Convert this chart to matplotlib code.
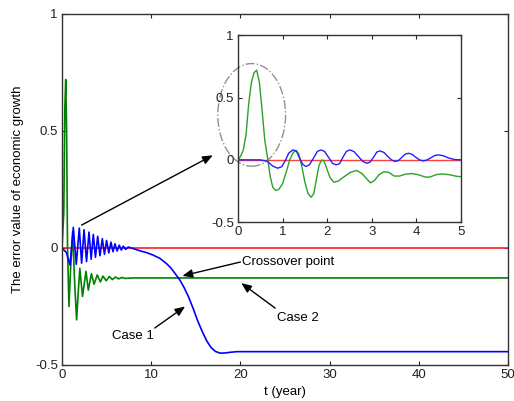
import matplotlib
matplotlib.use("Agg")
import matplotlib.pyplot as plt
from matplotlib.patches import Ellipse

plt.rcParams["font.family"] = ["Liberation Sans", "DejaVu Sans"]
plt.rcParams["axes.unicode_minus"] = False

# main plot: 0..50 years
red_t = [0, 50]
red_v = [0, 0]

case2_t = [0, 0.2, 0.32, 0.42, 0.52, 0.62, 0.78, 0.95, 1.2, 1.42, 1.64, 1.82, 2.0, 2.3,
           2.69, 2.95, 3.3, 3.6, 3.95, 4.3, 4.6, 4.95, 5.3, 5.65, 6.0, 6.35, 6.7, 7.1,
           8.0, 50]
case2_v = [0, 0.15, 0.6, 0.72, 0.5, 0.0, -0.25, -0.1, 0.07, -0.15, -0.307, -0.19, -0.087,
           -0.207, -0.10, -0.18, -0.11, -0.155, -0.115, -0.145, -0.12, -0.14, -0.122,
           -0.135, -0.124, -0.132, -0.126, -0.13, -0.128, -0.128]

case1_t = [0, 0.5, 0.9, 1.27, 1.6, 1.94, 2.2, 2.47, 2.75, 3.03, 3.27, 3.51, 3.75, 4.0,
           4.26, 4.52, 4.76, 5.0, 5.25, 5.49, 5.72, 5.94, 6.18, 6.42, 6.65, 6.87, 7.15,
           7.43, 8.0, 8.74, 9.5, 10.2, 11.0, 11.7, 12.2, 12.7, 13.2, 13.7, 14.2, 14.7,
           15.2, 15.7, 16.2, 16.7, 17.2, 17.7, 18.2, 18.8, 19.6, 50]
case1_v = [0, -0.02, -0.073, 0.088, -0.07, 0.085, -0.065, 0.078, -0.058, 0.068, -0.048,
           0.058, -0.04, 0.05, -0.033, 0.04, -0.027, 0.032, -0.021, 0.025, -0.016, 0.018,
           -0.013, 0.012, -0.009, 0.008, -0.006, 0.004, -0.003, -0.012, -0.02, -0.03,
           -0.045, -0.066, -0.085, -0.11, -0.136, -0.17, -0.21, -0.258, -0.31, -0.355,
           -0.395, -0.425, -0.442, -0.449, -0.449, -0.446, -0.443, -0.443]

# inset: 0..5 years
inset_green_t = [0, 0.06, 0.12, 0.18, 0.24, 0.3, 0.36, 0.42, 0.48, 0.54, 0.6, 0.67, 0.72,
                 0.78, 0.85, 0.92, 1.0, 1.08, 1.16, 1.24, 1.3, 1.36, 1.43, 1.5, 1.57, 1.64,
                 1.7, 1.76, 1.82, 1.88, 1.93, 1.99, 2.06, 2.15, 2.25, 2.38, 2.52, 2.66,
                 2.78, 2.88, 2.97, 3.06, 3.16, 3.27, 3.38, 3.5, 3.62, 3.75, 3.9, 4.05, 4.2,
                 4.3, 4.45, 4.6, 4.75, 4.9, 5.0]
inset_green_v = [0, 0.03, 0.08, 0.2, 0.45, 0.62, 0.7, 0.72, 0.62, 0.4, 0.16, 0.0, -0.13,
                 -0.22, -0.246, -0.235, -0.19, -0.1, 0.0, 0.06, 0.075, 0.05, -0.05, -0.18,
                 -0.27, -0.3, -0.27, -0.15, -0.04, 0.0, -0.01, -0.07, -0.14, -0.18, -0.17,
                 -0.135, -0.1, -0.085, -0.11, -0.15, -0.185, -0.165, -0.12, -0.095, -0.1,
                 -0.13, -0.13, -0.115, -0.11, -0.12, -0.138, -0.138, -0.118, -0.113, -0.12,
                 -0.132, -0.135]

inset_blue_t = [0, 0.5, 0.65, 0.78, 0.89, 0.98, 1.06, 1.14, 1.23, 1.31, 1.38, 1.45, 1.52,
                1.6, 1.69, 1.78, 1.86, 1.94, 2.03, 2.12, 2.2, 2.28, 2.35, 2.43, 2.51, 2.6,
                2.7, 2.8, 2.89, 2.96, 3.04, 3.11, 3.18, 3.27, 3.35, 3.44, 3.52, 3.6, 3.67,
                3.75, 3.82, 3.9, 3.98, 4.07, 4.15, 4.23, 4.32, 4.41, 4.49, 4.6, 4.72, 4.85,
                5.0]
inset_blue_v = [0, 0.0, -0.01, -0.05, -0.067, -0.055, -0.006, 0.055, 0.08, 0.07, 0.015,
                -0.035, -0.053, -0.04, 0.013, 0.068, 0.08, 0.068, 0.02, -0.028, -0.04, -0.03,
                0.02, 0.068, 0.08, 0.066, 0.027, -0.013, -0.027, -0.018, 0.022, 0.062, 0.072,
                0.06, 0.03, 0.0, -0.013, -0.005, 0.02, 0.046, 0.053, 0.045, 0.022, 0.0,
                -0.008, -0.002, 0.016, 0.035, 0.04, 0.033, 0.015, 0.003, 0.0]

FS = 9.5
spine_col = "#333333"


def style_axes(ax):
    for s in ax.spines.values():
        s.set_color(spine_col)
        s.set_linewidth(1.0)
    ax.tick_params(direction="in", length=3, width=0.8, top=True, right=True,
                   labelsize=FS, colors="#222222", pad=3)


fig = plt.figure(figsize=(5.14, 4.01), dpi=100)
ax = fig.add_axes([0.1206, 0.0898, 0.8677, 0.8753])
ax.plot(red_t, red_v, color="#ff2020", lw=1.2)
ax.plot(case2_t, case2_v, color="#008000", lw=1.2)
ax.plot(case1_t, case1_v, color="#0000ff", lw=1.2)
ax.set_xlim(0, 50)
ax.set_ylim(-0.5, 1)
ax.set_xticks([0, 10, 20, 30, 40, 50])
ax.set_yticks([-0.5, 0, 0.5, 1])
ax.set_yticklabels(["-0.5", "0", "0.5", "1"])
style_axes(ax)
ax.set_xlabel("t (year)", fontsize=FS)
ax.set_ylabel("The error value of economic growth", fontsize=FS)
ax.xaxis.set_label_coords(0.5, -0.06)
ax.yaxis.set_label_coords(-0.085, 0.5)

arrow = dict(arrowstyle="-|>,head_length=0.6,head_width=0.25", color="k", lw=1.0,
             mutation_scale=10, shrinkA=0, shrinkB=0)
ax.annotate("", xy=(16.9, 0.396), xytext=(2.2, 0.098), arrowprops=arrow)
ax.annotate("", xy=(13.5, -0.119), xytext=(20.0, -0.06), arrowprops=arrow)
ax.annotate("", xy=(20.1, -0.15), xytext=(23.9, -0.257), arrowprops=arrow)
ax.annotate("", xy=(13.8, -0.25), xytext=(10.4, -0.342), arrowprops=arrow)
ax.text(20.2, -0.06, "Crossover point", fontsize=FS, ha="left", va="center")
ax.text(24.1, -0.30, "Case 2", fontsize=FS, ha="left", va="center")
ax.text(8.0, -0.378, "Case 1", fontsize=FS, ha="center", va="center")

axi = fig.add_axes([0.463, 0.446, 0.434, 0.466])
axi.plot(red_t, red_v, color="#ff4040", lw=1.0)
axi.plot(inset_green_t, inset_green_v, color="#2ca02c", lw=1.0)
axi.plot(inset_blue_t, inset_blue_v, color="#2020ff", lw=1.0)
axi.set_xlim(0, 5)
axi.set_ylim(-0.5, 1)
axi.set_xticks([0, 1, 2, 3, 4, 5])
axi.set_yticks([-0.5, 0, 0.5, 1])
axi.set_yticklabels(["-0.5", "0", "0.5", "1"])
style_axes(axi)
axi.add_patch(Ellipse((0.307, 0.361), 1.52, 0.824, fill=False, linestyle="-.",
                      edgecolor="#9a8a96", lw=1.0, clip_on=False))

fig.savefig("out.png", dpi=100)
